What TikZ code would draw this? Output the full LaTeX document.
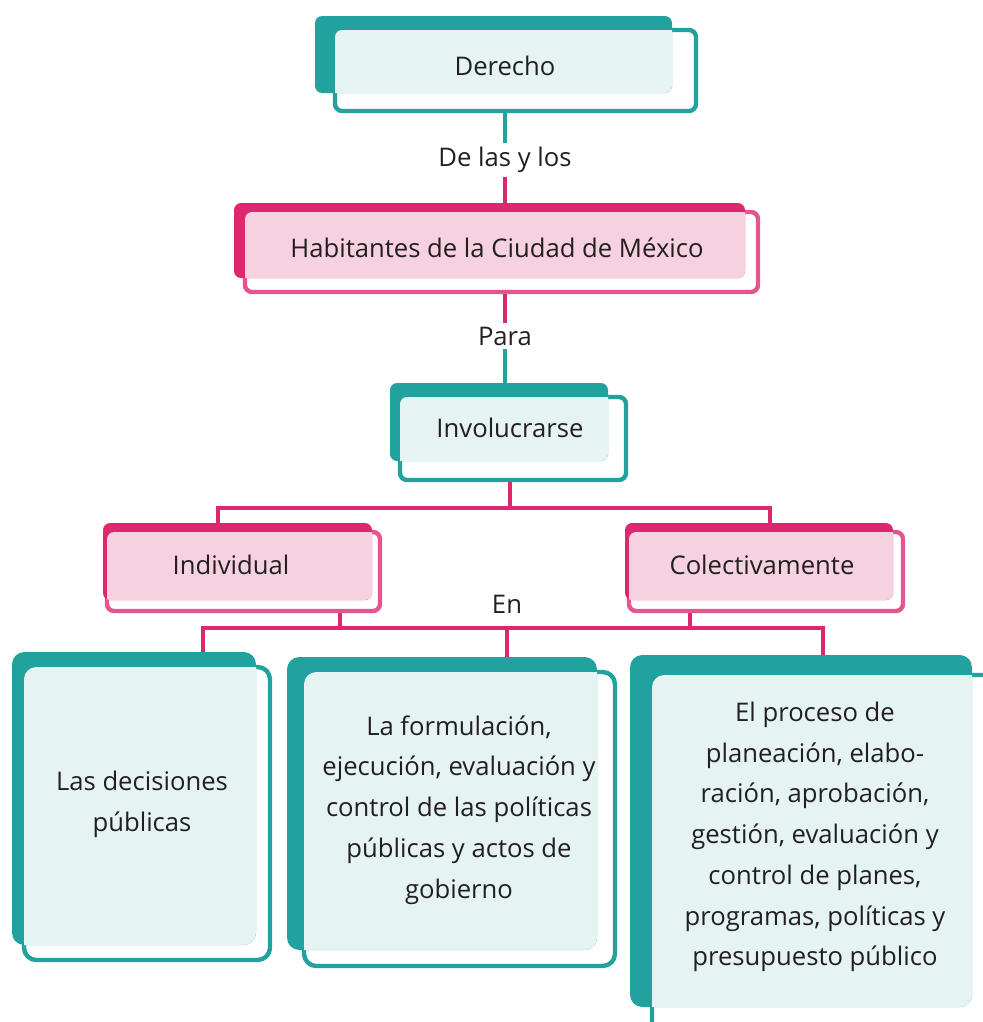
\documentclass[tikz,border=0pt]{standalone}
\usepackage{fontspec}
\setmainfont{Open Sans}
\usetikzlibrary{fit, backgrounds}

\definecolor{verdefondo}{HTML}{22A29E}
\definecolor{verdeborde}{HTML}{22A29E}
\definecolor{verdeclaro}{HTML}{E6F3F3}
\definecolor{rosafondo}{HTML}{DD2870}
\definecolor{rosaborde}{HTML}{E4558D}
\definecolor{rosaclaro}{HTML}{F6D1DF}
\definecolor{texto}{HTML}{231F20}

% caja doble: nombre, esquema, radio, fondo (x1,y1) (x2,y2), frente (x1,y1) (x2,y2)
\newcommand{\cajon}[7]{%
  \node (#1) [fit={(#6) (#7)}, inner sep=0pt, draw=#2borde, fill=white, line width=2.5pt, rounded corners=#3] {};
  \fill[#2fondo, rounded corners=#3] (#4) rectangle (#5);
  \begin{scope}
    \clip[rounded corners=#3] (#4) rectangle (#5);
    \fill[#2claro, rounded corners=#3] ([shift={(1.25pt,-1.25pt)}]#1.north west) rectangle ([shift={(-1.25pt,1.25pt)}]#1.south east);
  \end{scope}}

\begin{document}
\begin{tikzpicture}[x=0.02cm, y=-0.02cm,
    txt/.style={text=texto, font=\fontsize{14.6}{23.2}\selectfont, align=center, inner sep=0pt},
    etiqueta/.style={text=texto, font=\fontsize{14.6}{23.2}\selectfont, inner sep=2pt},
    lineaverde/.style={draw=verdefondo, line width=2.2pt},
    linearosa/.style={draw=rosafondo, line width=2.2pt}
  ]
  \useasboundingbox (0,0) rectangle (983,1022);

  % cajas
  \cajon{derecho}{verde}{4pt}{315,16}{672,93}{335,30}{696,111}
  \cajon{habitantes}{rosa}{4pt}{234,203}{745,278}{245,212}{758,292}
  \cajon{involucrarse}{verde}{4pt}{390,383}{608,461}{400,397}{626,480}
  \cajon{individual}{rosa}{4pt}{103,523}{372,600}{107,532}{380,611}
  \cajon{colectiva}{rosa}{4pt}{625,523}{893,600}{629,532}{903,611}
  \cajon{decisiones}{verde}{7pt}{12,652}{256,945}{24,667}{270,960}
  \cajon{formulacion}{verde}{7pt}{287,657}{597,950}{304,672}{615,966}
  \cajon{proceso}{verde}{7pt}{630,655}{972,1007}{652,675}{1000,1035}

  % textos
  \node (derechotxt) [txt] at (505,66) {Derecho};
  \node (habtxt) [txt] at (497,248) {Habitantes de la Ciudad de México};
  \node (involtxt) [txt] at (510,428) {Involucrarse};
  \node (indtxt) [txt] at (231,565) {Individual};
  \node (coltxt) [txt] at (762,565) {Colectivamente};
  \node (dectxt) [txt] at (142,804) {Las decisiones\\públicas};
  \node (formtxt) [txt] at (459,810) {La formulación,\\ejecución, evaluación y\\control de las políticas\\públicas y actos de\\gobierno};
  \node (proctxt) [txt] at (815,837) {El proceso de\\planeación, elabo-\\ración, aprobación,\\gestión, evaluación y\\control de planes,\\programas, políticas y\\presupuesto público};

  % etiquetas
  \node (delas) [etiqueta] at (505,160) {De las y los};
  \node (para) [etiqueta] at (505,336) {Para};
  \node (en) [etiqueta] at (507,604) {En};

  \coordinate (subeInv) at (510,508);
  \coordinate (ramaAizq) at (218,508);
  \coordinate (ramaAder) at (770,508);
  \coordinate (ramaBizq) at (203,628);
  \coordinate (ramaBder) at (823,628);
  \coordinate (bajaI) at (340,628);
  \coordinate (bajaC) at (690,628);
  \coordinate (bajaF) at (507,628);

  \begin{scope}[on background layer]
    \draw[lineaverde] (derecho.south -| delas) -- (delas.north);
    \draw[linearosa] (delas.south) -- (habitantes.north -| delas);
    \draw[linearosa] (habitantes.south -| para) -- (para.north);
    \draw[lineaverde] (para.south) -- (involucrarse.north -| para);
    \draw[linearosa] (involucrarse.south -| subeInv) -- (subeInv);
    \draw[linearosa] (individual.north -| ramaAizq) -- (ramaAizq) -- (ramaAder) -- (colectiva.north -| ramaAder);
    \draw[linearosa] (individual.south -| bajaI) -- (bajaI);
    \draw[linearosa] (colectiva.south -| bajaC) -- (bajaC);
    \draw[linearosa] (decisiones.north -| ramaBizq) -- (ramaBizq) -- (ramaBder) -- (proceso.north -| ramaBder);
    \draw[linearosa] (bajaF) -- (formulacion.north -| bajaF);
  \end{scope}
\end{tikzpicture}
\end{document}
